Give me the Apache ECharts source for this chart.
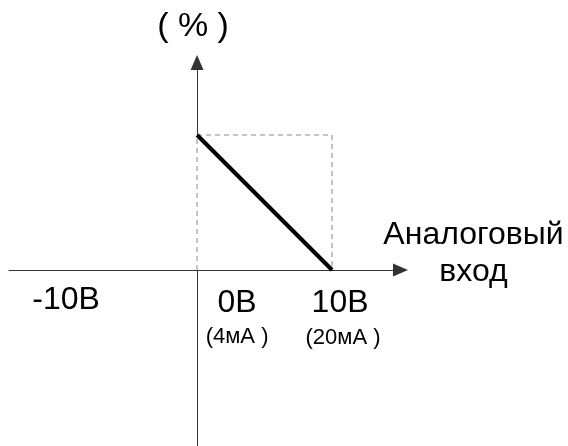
<!DOCTYPE html>
<html>
<head>
<meta charset="utf-8">
<script src="https://cdn.jsdelivr.net/npm/echarts@6/dist/echarts.min.js"></script>
<style>
  html, body { margin: 0; padding: 0; background: #fff; }
  #main { width: 568px; height: 446px; }
</style>
</head>
<body>
<div id="main"></div>
<script>
// data
const lineX = [0, 10];
const lineY = [100, 0];
const boxX = [0, 0, 10, 10];
const boxY = [0, 100, 100, 0];
const tickValues = [-10, 0, 10];
const tickLabels = ['-10В', '0В', '10В'];
const currentLabels = ['', '(4мА )', '(20мА )'];
const yName = '( % )';
const xName = 'Аналоговый\nвход';

// label offsets from the tick point (px)
const tickOffsets = [[4, 30], [40, 33], [8, 33]];
const currentOffsets = [[0, 0], [40, 67], [11, 68]];

const FONT = '"Liberation Sans", Arial, sans-serif';
const X_MIN = -13.93, X_MAX = 15.07;

const chart = echarts.init(document.getElementById('main'));

const axisLine = {
  onZero: true,
  symbol: ['none', 'triangle'],
  symbolSize: [13, 15],
  lineStyle: { color: '#333', width: 1 }
};

const option = {
  animation: false,
  backgroundColor: '#fff',
  grid: { left: 9, right: 167.5, top: 62.5, bottom: 0, containLabel: false },
  xAxis: {
    type: 'value',
    min: X_MIN,
    max: X_MAX,
    axisLine: axisLine,
    axisTick: { show: false },
    axisLabel: { show: false },
    splitLine: { show: false }
  },
  yAxis: {
    type: 'value',
    min: -130.4,
    max: 153.7,
    axisLine: axisLine,
    axisTick: { show: false },
    axisLabel: { show: false },
    splitLine: { show: false },
    name: yName,
    nameLocation: 'end',
    nameGap: 19,
    nameTextStyle: { fontFamily: FONT, fontSize: 34, color: '#000', align: 'center', padding: [0, 8, 0, 0] }
  },
  series: [
    {
      // hide the solid axis under the dashed edge
      type: 'line',
      data: [[boxX[0], boxY[0]], [boxX[1], boxY[1]]],
      symbol: 'none',
      lineStyle: { color: '#fff', width: 3 },
      z: 1
    },
    {
      type: 'line',
      data: boxX.map((x, i) => [x, boxY[i]]),
      symbol: 'none',
      lineStyle: { color: '#888', width: 1, type: [5, 4] },
      z: 2
    },
    {
      type: 'line',
      data: lineX.map((x, i) => [x, lineY[i]]),
      symbol: 'none',
      lineStyle: { color: '#000', width: 4 },
      z: 3
    }
  ]
};

chart.setOption(option);

const graphics = [];
tickValues.forEach((v, i) => {
  const p = chart.convertToPixel({ gridIndex: 0 }, [v, 0]);
  graphics.push({
    type: 'text',
    x: p[0] + tickOffsets[i][0],
    y: p[1] + tickOffsets[i][1],
    style: {
      text: tickLabels[i], font: '32px ' + FONT, fill: '#000',
      align: 'center', verticalAlign: 'middle'
    }
  });
  if (currentLabels[i]) {
    graphics.push({
      type: 'text',
      x: p[0] + currentOffsets[i][0],
      y: p[1] + currentOffsets[i][1],
      style: {
        text: currentLabels[i], font: '22px ' + FONT, fill: '#000',
        align: 'center', verticalAlign: 'middle'
      }
    });
  }
});
const end = chart.convertToPixel({ gridIndex: 0 }, [X_MAX, 0]);
graphics.push({
  type: 'text',
  x: end[0] + 73,
  y: end[1] - 16,
  style: {
    text: xName, font: '32px ' + FONT, fill: '#000',
    align: 'center', verticalAlign: 'middle', lineHeight: 37
  }
});
chart.setOption({ graphic: graphics });
</script>
</body>
</html>
